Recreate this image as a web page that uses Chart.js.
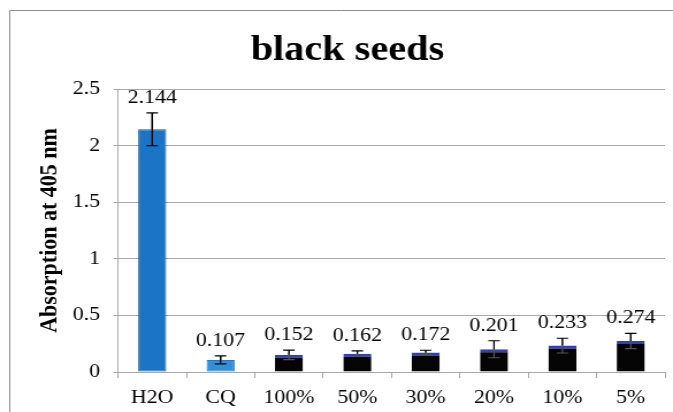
<!DOCTYPE html>
<html>
<head>
<meta charset="utf-8">
<script src="https://cdn.jsdelivr.net/npm/chart.js@4"></script>
<style>
  html, body { margin: 0; padding: 0; background: #fff; }
  canvas { display: block; }
</style>
</head>
<body>
<!-- drawn a bit narrower, then stretched sideways like the original picture -->
<canvas id="chart" width="585" height="412" style="width:673px;height:412px"></canvas>
<script>
const categories = ["H2O", "CQ", "100%", "50%", "30%", "20%", "10%", "5%"];
const absorption = [2.144, 0.107, 0.152, 0.162, 0.172, 0.201, 0.233, 0.274];
const errors = [0.145, 0.035, 0.042, 0.025, 0.02, 0.075, 0.065, 0.068];
const valueLabels = ["2.144", "0.107", "0.152", "0.162", "0.172", "0.201", "0.233", "0.274"];
const barColors = ["#1b74c5", "#3190d9", "#050505", "#050505", "#050505", "#050505", "#050505", "#050505"];
const barEdges = ["#145c9e", "#2478b8", "#2f3fc0", "#2f3fc0", "#2f3fc0", "#2f3fc0", "#2f3fc0", "#2f3fc0"];

const serif = "'Liberation Serif', 'Times New Roman', serif";
const gridColor = "#a8a8a8";

// outer frame (only left and top edges show in the original)
const frame = {
    id: "frame",
    beforeDraw(chart) {
        const ctx = chart.ctx;
        ctx.save();
        ctx.strokeStyle = "#8c8c8c";
        ctx.lineWidth = 1;
        ctx.beginPath();
        ctx.moveTo(8.5, chart.height);
        ctx.lineTo(8.5, 10.5);
        ctx.lineTo(chart.width, 10.5);
        ctx.stroke();
        ctx.restore();
    }
};

// error bars + value labels
const errorBars = {
    id: "errorBars",
    afterDatasetsDraw(chart) {
        const ctx = chart.ctx;
        const y = chart.scales.y;
        const meta = chart.getDatasetMeta(0);
        ctx.save();
        ctx.lineWidth = 1.2;
        ctx.fillStyle = "#000";
        ctx.font = "19px " + serif;
        ctx.textAlign = "center";
        ctx.textBaseline = "middle";
        meta.data.forEach((bar, i) => {
            const top = y.getPixelForValue(absorption[i] + errors[i]);
            const bot = y.getPixelForValue(absorption[i] - errors[i]);
            // on the black bars the part inside the bar shows up grey
            ctx.strokeStyle = i < 2 ? "#000" : "#555";
            ctx.beginPath();
            ctx.moveTo(bar.x, top); ctx.lineTo(bar.x, bot);
            ctx.moveTo(bar.x - 5, bot); ctx.lineTo(bar.x + 5, bot);
            ctx.stroke();
            ctx.strokeStyle = "#000";
            ctx.beginPath();
            ctx.moveTo(bar.x, top); ctx.lineTo(bar.x, Math.min(bot, bar.y));
            ctx.moveTo(bar.x - 5, top); ctx.lineTo(bar.x + 5, top);
            ctx.stroke();
            ctx.fillText(valueLabels[i], bar.x, top - 15);
        });
        ctx.restore();
    }
};

new Chart(document.getElementById("chart"), {
    type: "bar",
    data: {
        labels: categories,
        datasets: [{
            data: absorption,
            backgroundColor: barColors,
            borderColor: barEdges,
            borderWidth: (c) => c.dataIndex < 2 ? 1 : { top: 3, left: 0, right: 0, bottom: 0 },
            borderSkipped: false,
            barPercentage: 0.41,
            categoryPercentage: 1
        }]
    },
    options: {
        responsive: false,
        devicePixelRatio: 1,
        animation: false,
        layout: { padding: { top: 11, left: 26, right: 7, bottom: 0 } },
        plugins: {
            legend: { display: false },
            tooltip: { enabled: false },
            title: {
                display: true,
                text: "black seeds",
                color: "#000",
                font: { family: serif, size: 35, weight: "bold" },
                padding: { top: 19, bottom: 17 }
            }
        },
        scales: {
            x: {
                offset: true,
                afterFit: (s) => { s.height = 40; },
                grid: {
                    offset: true,
                    drawOnChartArea: false,
                    drawTicks: true,
                    tickLength: 6,
                    color: gridColor
                },
                border: { color: gridColor },
                ticks: { color: "#000", padding: 9, font: { family: serif, size: 19 } }
            },
            y: {
                min: 0,
                max: 2.5,
                afterFit: (s) => { s.width = 76.6; },
                ticks: {
                    stepSize: 0.5,
                    color: "#000",
                    padding: 11.6,
                    font: { family: serif, size: 19 },
                    callback: (v) => String(v)
                },
                grid: { color: gridColor, tickLength: 4 },
                border: { color: gridColor },
                title: {
                    display: true,
                    text: "Absorption at 405 nm",
                    color: "#000",
                    font: { family: serif, size: 22, weight: "bold" },
                    padding: { top: 4, bottom: 0 }
                }
            }
        }
    },
    plugins: [frame, errorBars]
});
</script>
</body>
</html>
